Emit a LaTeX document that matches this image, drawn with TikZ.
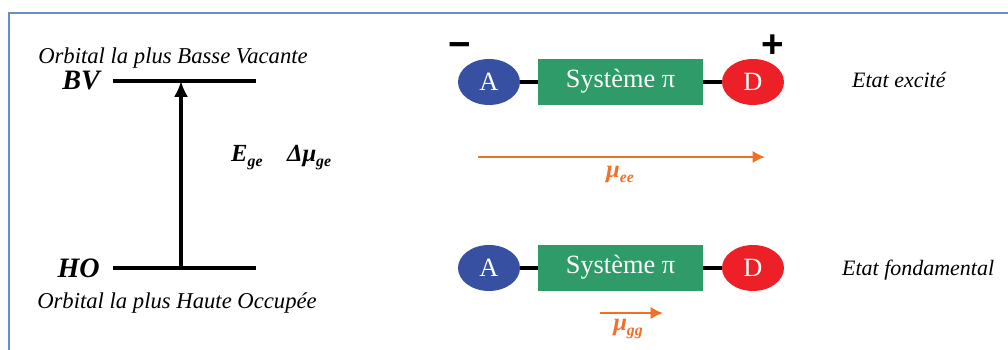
\documentclass[tikz,border=0pt]{standalone}
\usepackage{fontspec}
\setmainfont{Liberation Serif}
\newfontfamily\signfont{Liberation Sans}
\usetikzlibrary{arrows.meta,shapes.geometric}

\definecolor{framecol}{RGB}{104,142,200}
\definecolor{acccol}{RGB}{56,80,162}
\definecolor{doncol}{RGB}{236,32,38}
\definecolor{picol}{RGB}{46,155,104}
\definecolor{mucol}{RGB}{240,112,40}

\newcommand{\lowsub}[1]{\raisebox{-0.45ex}{\fontsize{9}{10}\selectfont #1}}

\tikzset{
  orbtxt/.style={font=\fontsize{12.9}{15}\selectfont\itshape},
  lvltxt/.style={font=\fontsize{16}{18}\selectfont\bfseries\itshape},
  lvl/.style={line width=2pt},
  accbox/.style={ellipse,fill=acccol,minimum width=1.24cm,minimum height=0.92cm,inner sep=0pt,text=white,font=\fontsize{15}{17}\selectfont},
  donbox/.style={ellipse,fill=doncol,minimum width=1.24cm,minimum height=0.92cm,inner sep=0pt,text=white,font=\fontsize{15}{17}\selectfont},
  pibox/.style={rectangle,fill=picol,minimum width=3.3cm,minimum height=0.92cm,inner sep=0pt},
  pitxt/.style={text=white,font=\fontsize{15}{17}\selectfont},
  bond/.style={line width=2.2pt},
  mu/.style={mucol,line width=1.3pt,-{Latex[length=7pt,width=7pt]}},
  mutxt/.style={text=mucol,font=\fontsize{14}{16}\selectfont\bfseries\itshape},
  etat/.style={font=\fontsize{12.5}{14}\selectfont\itshape},
  sign/.style={font=\signfont\fontsize{22}{24}\selectfont\bfseries}
}

\begin{document}
\begin{tikzpicture}[x=0.02cm,y=-0.02cm]
	\useasboundingbox (0,0) rectangle (1008,350);
	\draw[framecol,line width=1.5pt] (9,350) -- (9,13) -- (1008,13); %frame

	%orbitals-----------------------------------------------
	\node[orbtxt] (bvtitle) at (173,58) {Orbital la plus Basse Vacante}; %BV title
	\node[lvltxt,anchor=east] (bv) at (106,81) {BV}; %BV label
	\coordinate (bvl) at (113,81);
	\coordinate (bvr) at (256,81);
	\draw[lvl] (bvl) -- (bvr); %BV level
	\node[lvltxt,anchor=east] (ho) at (106,268) {HO}; %HO label
	\coordinate (hol) at (113,268);
	\coordinate (hor) at (256,268);
	\draw[lvl] (hol) -- (hor); %HO level
	\node[orbtxt] (hotitle) at (177,303) {Orbital la plus Haute Occupée}; %HO title
	\coordinate (exbot) at (181,268);
	\coordinate (extop) at (181,81);
	\draw[line width=1.8pt,-{Latex[length=9pt,width=8pt]}] (exbot) -- (extop); %excitation
	\node[lvltxt,font=\fontsize{14}{16}\selectfont\bfseries\itshape,anchor=west] (ege) at (225,158) {E\lowsub{ge}\quad Δμ\lowsub{ge}}; %energy label

	%excited state------------------------------------------
	\node[accbox] (a1) at (489,82) {A}; %acceptor
	\node[pibox] (pi1) at (620.5,82) {}; %pi system
	\node[pitxt] (pit1) at (620.5,81) {Système π};
	\node[donbox] (d1) at (753,82) {D}; %donor
	\draw[bond] (a1) -- (pi1);
	\draw[bond] (pi1) -- (d1);
	\node[sign] (minus) at (460,50) {−}; %minus
	\node[sign] (plus) at (773,46) {+}; %plus
	\node[etat,anchor=west] (exc) at (846,80) {Etat excité};
	\coordinate (muee0) at (478,157);
	\coordinate (muee1) at (765,157);
	\draw[mu] (muee0) -- (muee1); %mu ee
	\node[mutxt] (mueet) at (620,174) {μ\lowsub{ee}};

	%ground state-------------------------------------------
	\node[accbox] (a2) at (489,268) {A}; %acceptor
	\node[pibox] (pi2) at (620.5,268) {}; %pi system
	\node[pitxt] (pit2) at (620.5,267) {Système π};
	\node[donbox] (d2) at (753,268) {D}; %donor
	\draw[bond] (a2) -- (pi2);
	\draw[bond] (pi2) -- (d2);
	\node[etat,anchor=west] (fond) at (836,270) {Etat fondamental};
	\coordinate (mugg0) at (600,313);
	\coordinate (mugg1) at (663,313);
	\draw[mu] (mugg0) -- (mugg1); %mu gg
	\node[mutxt] (muggt) at (628,329) {μ\lowsub{gg}};
\end{tikzpicture}
\end{document}
